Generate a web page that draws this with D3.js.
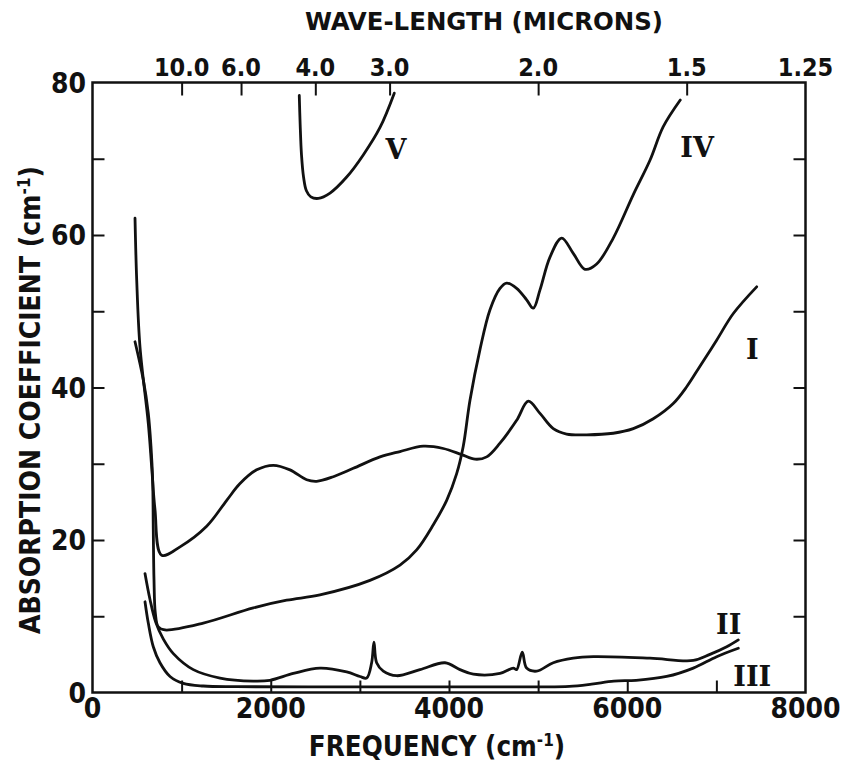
<!DOCTYPE html>
<html>
<meta charset="utf-8">
<script src="https://d3js.org/d3.v7.min.js"></script>

<body>
    <style>
        body,
        html {
            margin: 0;
            padding: 0;
            background: #fff;
            overflow: hidden;
        }

        text {
            font-family: "DejaVu Sans Condensed", "DejaVu Sans", sans-serif;
            font-stretch: condensed;
            font-weight: bold;
            fill: #111;
        }

        .roman {
            font-family: "DejaVu Serif", "Liberation Serif", serif;
            font-stretch: normal;
        }
    </style>

    <svg id="chart"></svg>

    <script>
        // curves: [frequency cm-1, absorption cm-1]
        var curveI = [[477, 62.2], [496, 54.1], [533, 45.3], [626, 35.3], [664, 29.6], [701, 24.0], [776, 18.0],
            [982, 19.1], [1281, 21.8], [1506, 25.2], [1655, 27.4], [1842, 29.2], [2029, 29.8], [2216, 29.2],
            [2403, 27.9], [2515, 27.7], [2702, 28.3], [2926, 29.4], [3226, 30.9], [3450, 31.6], [3712, 32.3],
            [3936, 32.0], [4142, 31.2], [4292, 30.6], [4423, 30.9], [4572, 32.7], [4759, 35.7], [4890, 38.2],
            [5021, 36.6], [5170, 34.6], [5320, 33.9], [5545, 33.8], [5843, 34.0], [6068, 34.6], [6292, 35.9],
            [6516, 37.9], [6667, 40.1], [6816, 42.8], [7003, 46.2], [7190, 49.7], [7452, 53.2]];

        var curveII = [[589, 15.6], [645, 12.2], [710, 9.2], [795, 7.0], [907, 5.1], [1131, 3.0], [1431, 1.9],
            [1805, 1.5], [1991, 1.6], [2253, 2.5], [2552, 3.2], [2852, 2.7], [3001, 2.1], [3076, 1.9], [3132, 3.9],
            [3158, 6.6], [3188, 3.9], [3263, 2.8], [3413, 2.2], [3674, 3.0], [3955, 3.9], [4123, 3.0], [4273, 2.4],
            [4572, 2.5], [4721, 3.2], [4759, 3.0], [4822, 5.3], [4871, 3.2], [4984, 2.8], [5170, 3.9], [5394, 4.5],
            [5619, 4.7], [6255, 4.5], [6741, 4.2], [6928, 5.0], [7116, 6.0], [7246, 6.9]];

        var curveIII = [[589, 11.9], [626, 9.1], [682, 6.0], [757, 3.9], [870, 2.1], [1019, 1.2], [1243, 0.85],
            [1618, 0.76], [3000, 0.74], [4000, 0.74], [5000, 0.74], [5350, 0.8], [5600, 1.1], [5850, 1.5],
            [6100, 1.6], [6442, 2.1], [6741, 3.2], [7003, 4.7], [7246, 5.8]];

        var curveIV = [[477, 46.0], [570, 41.0], [626, 36.6], [656, 32.3], [675, 27.8], [682, 21.3], [690, 14.8],
            [705, 10.4], [738, 8.6], [813, 8.2], [1243, 9.1], [1805, 11.1], [2179, 12.1], [2552, 12.8], [3113, 14.7],
            [3450, 16.7], [3637, 18.7], [3824, 22.0], [3974, 25.2], [4086, 28.7], [4160, 32.3], [4235, 38.3],
            [4348, 45.0], [4460, 50.2], [4572, 53.0], [4647, 53.7], [4759, 53.0], [4871, 51.5], [4946, 50.4],
            [5021, 52.8], [5133, 57.1], [5264, 59.6], [5394, 57.6], [5526, 55.5], [5657, 56.2], [5843, 59.6],
            [6068, 65.3], [6255, 69.8], [6404, 74.2], [6595, 77.7]];

        var curveV = [[2320, 78.3], [2330, 74.5], [2345, 70.5], [2368, 67.6], [2400, 65.8], [2450, 65.0],
            [2534, 64.8], [2665, 65.5], [2852, 67.6], [3038, 70.5], [3226, 74.1], [3386, 78.6]];

        // label name and where it sits, in data units
        var curveLabels = [["V", 3406, 71.1], ["IV", 6784, 71.4], ["I", 7402, 44.9], ["II", 7138, 8.9], ["III", 7402, 2.0]];

        var freqTicks = [1000, 2000, 3000, 4000, 5000, 6000, 7000];
        var freqLabels = [0, 2000, 4000, 6000, 8000];
        var absTicks = [10, 20, 30, 40, 50, 60, 70];
        var absLabels = [0, 20, 40, 60, 80];
        var wavelengths = [10.0, 6.0, 4.0, 3.0, 2.0, 1.5, 1.25];
        var wavelengthLabels = ["10.0", "6.0", "4.0", "3.0", "2.0", "1.5", "1.25"];

        var width = 847, height = 765;
        var box = { left: 92.5, right: 805.5, top: 82.5, bottom: 692.5 };

        var svg = d3.select("#chart").attr("width", width).attr("height", height);

        var x = d3.scaleLinear().domain([0, 8000]).range([box.left, box.right]);
        var y = d3.scaleLinear().domain([0, 80]).range([box.bottom, box.top]);

        // frame
        svg.append("rect")
            .attr("x", box.left).attr("y", box.top)
            .attr("width", box.right - box.left).attr("height", box.bottom - box.top)
            .attr("fill", "none").attr("stroke", "#111").attr("stroke-width", 2.5);

        function styleAxis(g) {
            g.select(".domain").remove();
            g.selectAll(".tick line").attr("stroke", "#111").attr("stroke-width", 2);
        }

        // inward ticks
        svg.append("g").attr("transform", `translate(0,${box.bottom})`)
            .call(d3.axisBottom(x).tickValues(freqTicks).tickSize(-12).tickFormat(""))
            .call(styleAxis);
        svg.append("g").attr("transform", `translate(${box.left},0)`)
            .call(d3.axisLeft(y).tickValues(absTicks).tickSize(-12).tickFormat(""))
            .call(styleAxis);
        svg.append("g").attr("transform", `translate(${box.right},0)`)
            .call(d3.axisRight(y).tickValues(absTicks).tickSize(-12).tickFormat(""))
            .call(styleAxis);
        svg.append("g").attr("transform", `translate(0,${box.top})`)
            .call(d3.axisTop(x).tickValues(wavelengths.slice(0, 6).map(function (w) { return 10000 / w; }))
                .tickSize(-13).tickFormat(""))
            .call(styleAxis);

        // tick labels
        svg.selectAll(".xlab").data(freqLabels).enter().append("text")
            .attr("x", function (d) { return x(d); })
            .attr("y", 718)
            .attr("text-anchor", "middle")
            .style("font-size", "28px")
            .text(function (d) { return d; });

        svg.selectAll(".ylab").data(absLabels).enter().append("text")
            .attr("x", 86)
            .attr("y", function (d) { return y(d) + 10; })
            .attr("text-anchor", "end")
            .style("font-size", "28px")
            .text(function (d) { return d; });

        svg.selectAll(".wlab").data(wavelengths).enter().append("text")
            .attr("x", function (d) { return x(10000 / d); })
            .attr("y", 76)
            .attr("text-anchor", "middle")
            .style("font-size", "25px")
            .text(function (d, i) { return wavelengthLabels[i]; });

        // axis titles
        svg.append("text")
            .attr("x", 484).attr("y", 30)
            .attr("text-anchor", "middle")
            .attr("textLength", 358).attr("lengthAdjust", "spacingAndGlyphs")
            .style("font-size", "25px")
            .text("WAVE-LENGTH (MICRONS)");

        var xt = svg.append("text")
            .attr("x", 437).attr("y", 756)
            .attr("text-anchor", "middle")
            .style("font-size", "27.5px");
        xt.append("tspan").text("FREQUENCY (cm");
        xt.append("tspan").attr("dy", -10).style("font-size", "17px").text("-1");
        xt.append("tspan").attr("dy", 10).text(")");

        var yt = svg.append("text")
            .attr("transform", "translate(40,400) rotate(-90)")
            .attr("text-anchor", "middle")
            .style("font-size", "28px");
        yt.append("tspan").text("ABSORPTION COEFFICIENT (cm");
        yt.append("tspan").attr("dy", -10).style("font-size", "17px").text("-1");
        yt.append("tspan").attr("dy", 10).text(")");

        // curves
        var line = d3.line()
            .x(function (d) { return x(d[0]); })
            .y(function (d) { return y(d[1]); })
            .curve(d3.curveCatmullRom.alpha(0.5));

        svg.selectAll(".curve")
            .data([curveI, curveII, curveIII, curveIV, curveV])
            .enter().append("path")
            .attr("class", "curve")
            .attr("d", line)
            .attr("fill", "none")
            .attr("stroke", "#111")
            .attr("stroke-width", 2.8)
            .attr("stroke-linejoin", "round")
            .attr("stroke-linecap", "round");

        svg.selectAll(".roman").data(curveLabels).enter().append("text")
            .attr("class", "roman")
            .attr("x", function (d) { return x(d[1]); })
            .attr("y", function (d) { return y(d[2]) + 9; })
            .attr("text-anchor", "middle")
            .style("font-size", "27px")
            .text(function (d) { return d[0]; });
    </script>
</body>

</html>
